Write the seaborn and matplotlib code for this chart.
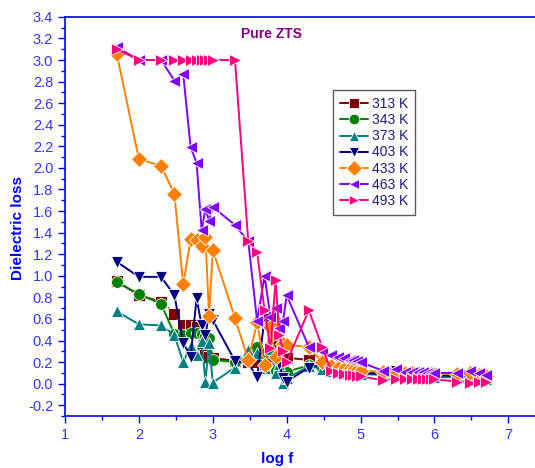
import matplotlib
matplotlib.use("Agg")
import matplotlib.pyplot as plt
from matplotlib.ticker import MultipleLocator
import numpy as np
import pandas as pd
import seaborn as sns

# log of measuring frequency (Hz)
log_f = [1.70, 2.00, 2.30, 2.48, 2.60, 2.70, 2.78, 2.85, 2.90, 2.95, 3.00,
         3.30, 3.48, 3.60, 3.70, 3.78, 3.85, 3.90, 3.95, 4.00,
         4.30, 4.48, 4.60, 4.70, 4.78, 4.85, 4.90, 4.95, 5.00,
         5.30, 5.48, 5.60, 5.70, 5.78, 5.85, 5.90, 5.95, 6.00,
         6.30, 6.48, 6.60, 6.70]

loss_313 = [0.95, 0.82, 0.76, 0.65, 0.54, 0.54, 0.53, 0.30, 0.27, 0.25, 0.24,
            0.21, 0.20, 0.20, 0.18, 0.22, 0.28, 0.25, 0.22, 0.24,
            0.22, 0.16, 0.15, 0.14, 0.13, 0.13, 0.12, 0.12, 0.12,
            0.10, 0.09, 0.09, 0.09, 0.08, 0.08, 0.08, 0.08, 0.08,
            0.07, 0.07, 0.06, 0.05]
loss_343 = [0.94, 0.83, 0.74, 0.46, 0.45, 0.47, 0.47, 0.46, 0.44, 0.42, 0.22,
            0.20, 0.22, 0.34, 0.28, 0.15, 0.12, 0.10, 0.11, 0.11,
            0.17, 0.15, 0.13, 0.12, 0.12, 0.11, 0.11, 0.10, 0.10,
            0.09, 0.08, 0.08, 0.08, 0.08, 0.07, 0.07, 0.07, 0.07,
            0.07, 0.06, 0.06, 0.05]
loss_373 = [0.67, 0.55, 0.54, 0.45, 0.20, 0.35, 0.27, 0.40, 0.02, 0.38, 0.01,
            0.15, 0.31, 0.28, 0.15, 0.32, 0.10, 0.18, 0.01, 0.05,
            0.16, 0.14, 0.12, 0.11, 0.10, 0.10, 0.09, 0.09, 0.09,
            0.08, 0.08, 0.07, 0.07, 0.07, 0.07, 0.06, 0.06, 0.06,
            0.06, 0.05, 0.05, 0.04]
loss_403 = [1.13, 0.99, 0.99, 0.82, 0.38, 0.25, 0.79, 0.54, 0.45, 0.65, 0.59,
            0.21, 0.19, 0.06, 0.60, 0.55, 0.35, 0.18, 0.05, 0.02,
            0.15, 0.18, 0.13, 0.12, 0.12, 0.11, 0.11, 0.10, 0.10,
            0.09, 0.12, 0.09, 0.09, 0.08, 0.08, 0.08, 0.08, 0.08,
            0.07, 0.07, 0.06, 0.06]
loss_433 = [3.06, 2.08, 2.02, 1.76, 0.92, 1.34, 1.33, 1.28, 1.36, 0.63, 1.24,
            0.61, 0.22, 0.57, 0.17, 0.53, 0.25, 0.55, 0.37, 0.36,
            0.34, 0.20, 0.16, 0.15, 0.14, 0.14, 0.13, 0.13, 0.12,
            0.11, 0.10, 0.10, 0.10, 0.10, 0.09, 0.09, 0.09, 0.09,
            0.09, 0.10, 0.08, 0.07]
loss_463 = [3.12, 3.00, 3.00, 2.81, 2.87, 2.19, 2.05, 1.42, 1.62, 1.51, 1.64,
            1.47, 1.32, 0.58, 1.00, 0.62, 0.70, 0.52, 0.58, 0.82,
            0.34, 0.30, 0.27, 0.25, 0.24, 0.22, 0.22, 0.21, 0.20,
            0.12, 0.14, 0.11, 0.11, 0.11, 0.11, 0.10, 0.10, 0.10,
            0.10, 0.12, 0.10, 0.08]
loss_493 = [3.10, 3.00, 3.00, 3.00, 3.00, 3.00, 3.00, 3.00, 3.00, 3.00, 3.00,
            3.00, 1.32, 1.22, 0.68, 0.33, 0.96, 0.45, 0.30, 0.20,
            0.68, 0.34, 0.12, 0.10, 0.09, 0.08, 0.08, 0.07, 0.07,
            0.03, 0.04, 0.04, 0.04, 0.04, 0.04, 0.04, 0.04, 0.04,
            0.02, 0.01, 0.02, 0.02]

temperatures = ["313 K", "343 K", "373 K", "403 K", "433 K", "463 K", "493 K"]
series = [loss_313, loss_343, loss_373, loss_403, loss_433, loss_463, loss_493]
colors = ["#800000", "#008000", "#008080", "#000080", "#ff8000", "#8000ff", "#ff0080"]
markers = ["s", "o", "^", "v", "D", "<", ">"]

df = pd.concat(
    [pd.DataFrame({"log f": log_f, "Dielectric loss": vals, "T": t})
     for t, vals in zip(temperatures, series)],
    ignore_index=True,
)

sns.set_theme(style="white")
plt.rcParams["font.family"] = ["Liberation Sans", "DejaVu Sans"]

fig = plt.figure(figsize=(5.35, 4.68), dpi=100)
ax = fig.add_axes([0.1215, 0.111, 0.884, 0.853])

sns.lineplot(
    data=df, x="log f", y="Dielectric loss", hue="T", style="T",
    hue_order=temperatures, style_order=temperatures,
    palette=dict(zip(temperatures, colors)),
    markers=dict(zip(temperatures, markers)), dashes=False,
    estimator=None, sort=False, linewidth=1.4, markersize=8.5,
    markeredgewidth=0.6, ax=ax,
)

blue = "#0000ff"
tick_blue = "#3333ff"
ax.set_xlim(1, 7.4)
ax.set_ylim(-0.3, 3.4)
ax.xaxis.set_major_locator(MultipleLocator(1))
ax.xaxis.set_minor_locator(MultipleLocator(0.5))
ax.yaxis.set_minor_locator(MultipleLocator(0.1))
yticks = np.arange(-0.2, 3.41, 0.2)
ax.set_yticks(yticks)
ax.set_yticklabels([f"{v:.1f}" for v in yticks])
ax.tick_params(axis="both", which="major", direction="out", length=5, width=1,
               color=blue, labelcolor=tick_blue, labelsize=10.5,
               bottom=True, left=True, top=False, right=False)
ax.tick_params(axis="both", which="minor", direction="out", length=3, width=1,
               color=blue, bottom=True, left=True, top=False, right=False)
for side in ["left", "bottom", "top"]:
    ax.spines[side].set_color(blue)
    ax.spines[side].set_linewidth(1.2)
ax.spines["right"].set_visible(False)

ax.set_xlabel("log f", color=blue, fontsize=11, fontweight="bold")
ax.xaxis.label.set_va("center")
ax.xaxis.set_label_coords(0.448, -0.108)
ax.set_ylabel("Dielectric loss", color=blue, fontsize=11, fontweight="bold")
ax.yaxis.label.set_va("center")
ax.yaxis.set_label_coords(-0.099, 0.47)
ax.text(3.80, 3.245, "Pure ZTS", color="#800080", fontsize=10, fontweight="bold",
        ha="center", va="center")

leg = ax.legend(loc="upper left", bbox_to_anchor=(0.5666, 0.816), frameon=True,
                fancybox=False, edgecolor="#333333", fontsize=10,
                handlelength=2.0, handletextpad=0.3, labelspacing=0.15,
                borderpad=0.5, borderaxespad=0, markerscale=0.9)
leg.get_frame().set_linewidth(1.0)
for txt in leg.get_texts():
    txt.set_color("#1a1a80")

fig.savefig("out.png", dpi=100)
